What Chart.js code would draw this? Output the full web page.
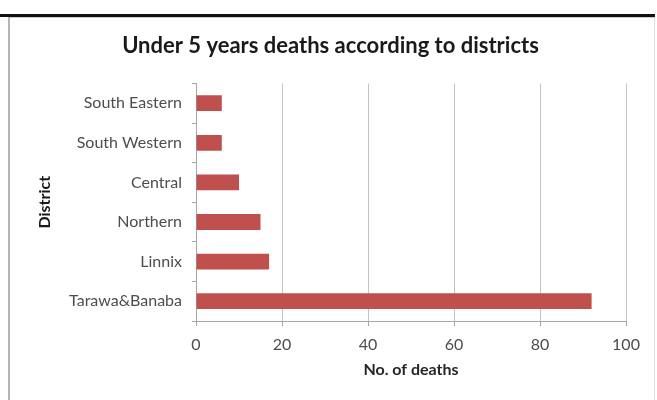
<!DOCTYPE html>
<html>
<head>
<meta charset="utf-8">
<script src="https://cdn.jsdelivr.net/npm/chart.js@4.4.0/dist/chart.umd.min.js"></script>
<style>
  html, body { margin: 0; padding: 0; background: #fff; }
  #wrap { position: relative; width: 657px; height: 400px; overflow: hidden; }
  #topline { position: absolute; left: 0; top: 14px; width: 655px; height: 3px; background: #111; }
  #topline2 { position: absolute; left: 9px; top: 17px; width: 646px; height: 1px; background: #ccc; }
  #leftline { position: absolute; left: 8px; top: 17px; width: 2px; height: 383px; background: #b5b5b5; }
  #rightline { position: absolute; left: 654px; top: 17px; width: 1px; height: 383px; background: #e0e0e0; }
  canvas { position: absolute; left: 0; top: 0; }
</style>
</head>
<body>
<div id="wrap">
  <canvas id="c" width="657" height="400"></canvas>
  <div id="topline"></div>
  <div id="topline2"></div>
  <div id="leftline"></div>
  <div id="rightline"></div>
</div>
<script>
const districts = ["South Eastern", "South Western", "Central", "Northern", "Linnix", "Tarawa&Banaba"];
const deaths = [6, 6, 10, 15, 17, 92];
const xTicks = [0, 20, 40, 60, 80, 100];

const chartTitle = "Under 5 years deaths according to districts";
const xTitle = "No. of deaths";
const yTitle = "District";

const FONT = "Lato, 'Open Sans', sans-serif";

new Chart(document.getElementById('c'), {
  type: 'bar',
  data: {
    labels: districts,
    datasets: [{
      data: deaths,
      backgroundColor: '#C0504D',
      borderWidth: 0,
      barPercentage: 0.4,
      categoryPercentage: 1.0
    }]
  },
  options: {
    indexAxis: 'y',
    responsive: false,
    animation: false,
    devicePixelRatio: 1,
    layout: { padding: { left: 35, right: 31, top: 0, bottom: 21 } },
    plugins: {
      legend: { display: false },
      tooltip: { enabled: false },
      title: {
        display: true,
        text: chartTitle,
        color: '#1a1a1a',
        font: { family: FONT, size: 22, weight: 'bold' },
        padding: { top: 33, bottom: 24 }
      }
    },
    scales: {
      x: {
        min: 0, max: 100,
        afterBuildTicks: (axis) => { axis.ticks = xTicks.map(v => ({ value: v })); },
        afterFit: (axis) => { axis.height = 58; },
        ticks: { color: '#4d4d4d', font: { family: FONT, size: 16 }, padding: 9 },
        grid: { color: '#c4c4c4', lineWidth: 1, drawTicks: true, tickLength: 5, tickColor: '#a6a6a6' },
        border: { display: true, color: '#a6a6a6' },
        title: { display: true, text: xTitle, color: '#262626', font: { family: FONT, size: 16, weight: 'bold' }, padding: { top: 3, bottom: 0 } }
      },
      y: {
        afterFit: (axis) => { axis.width = 196 - 35; },
        ticks: { color: '#4d4d4d', font: { family: FONT, size: 16 }, padding: 10 },
        grid: { drawOnChartArea: false, drawTicks: true, tickLength: 4, color: '#a6a6a6', offset: true },
        border: { display: true, color: '#a6a6a6' },
        title: { display: true, text: yTitle, color: '#1a1a1a', font: { family: FONT, size: 16, weight: 'bold' }, padding: { top: 0, bottom: 0 } }
      }
    }
  }
});
</script>
</body>
</html>
